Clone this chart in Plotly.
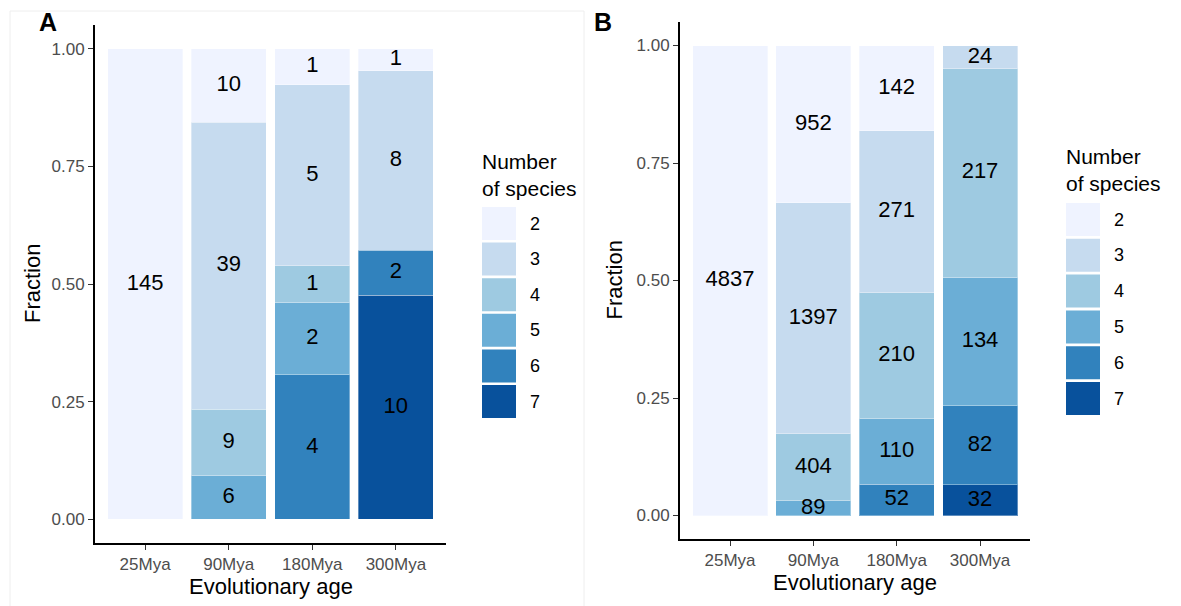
import plotly.graph_objects as go

W, H = 1181, 606

# Categories
ages = ["25Mya", "90Mya", "180Mya", "300Mya"]
species_levels = ["2", "3", "4", "5", "6", "7"]
level_colors = ["#EFF3FF", "#C6DBEF", "#9ECAE1", "#6BAED6", "#3182BD", "#08519C"]

# Panel A: counts per number of species, by evolutionary age
a_n2 = [145, 10, 1, 1]
a_n3 = [None, 39, 5, 8]
a_n4 = [None, 9, 1, None]
a_n5 = [None, 6, 2, None]
a_n6 = [None, None, 4, 2]
a_n7 = [None, None, None, 10]

# Panel B: counts per number of species, by evolutionary age
b_n2 = [4837, 952, 142, None]
b_n3 = [None, 1397, 271, 24]
b_n4 = [None, 404, 210, 217]
b_n5 = [None, 89, 110, 134]
b_n6 = [None, None, 52, 82]
b_n7 = [None, None, None, 32]

y_ticks = [0.0, 0.25, 0.5, 0.75, 1.0]
y_ticktext = ["0.00", "0.25", "0.50", "0.75", "1.00"]

FONT = "Liberation Sans, Arial, Helvetica, sans-serif"


def px(x):
    return x / W


def py(y):
    return 1 - y / H


fig = go.Figure()


def add_panel(series, xa, ya):
    totals = [sum(s[i] or 0 for s in series) for i in range(len(ages))]
    # ggplot-style stacking: highest level at the bottom
    base = [0.0] * len(ages)
    tx, ty, tt = [], [], []
    for k in reversed(range(len(series))):
        counts = series[k]
        frac = [None if c is None else c / totals[i] for i, c in enumerate(counts)]
        fig.add_trace(go.Bar(
            x=ages, y=frac, xaxis=xa, yaxis=ya, width=0.9,
            marker=dict(color=level_colors[k],
                        line=dict(color="rgba(255,255,255,0.35)", width=1)),
            showlegend=False, hoverinfo="skip",
        ))
        for i, f in enumerate(frac):
            if f is None:
                continue
            tx.append(ages[i])
            ty.append(base[i] + f / 2)
            tt.append(str(counts[i]))
            base[i] += f
    fig.add_trace(go.Scatter(
        x=tx, y=ty, text=tt, mode="text", xaxis=xa, yaxis=ya,
        textfont=dict(size=22, color="black", family=FONT),
        showlegend=False, hoverinfo="skip",
    ))


add_panel([a_n2, a_n3, a_n4, a_n5, a_n6, a_n7], "x", "y")
add_panel([b_n2, b_n3, b_n4, b_n5, b_n6, b_n7], "x2", "y2")

axis_common = dict(
    showline=True, linecolor="black", linewidth=1.8, mirror=False,
    ticks="outside", ticklen=5, tickwidth=1.4, tickcolor="#333333",
    showgrid=False, zeroline=False,
    tickfont=dict(size=17, color="#4D4D4D", family=FONT),
)

# panel geometry (pixels)
A = dict(x0=95, x1=446, y0=25, y1=543)
B = dict(x0=680, x1=1030, y0=22, y1=539)

fig.update_layout(
    width=W, height=H, margin=dict(l=0, r=0, t=0, b=0),
    paper_bgcolor="white", plot_bgcolor="white",
    barmode="stack", bargap=0.1,
    font=dict(family=FONT),
    xaxis=dict(domain=[px(A["x0"]), px(A["x1"])], anchor="y",
               type="category", categoryorder="array", categoryarray=ages,
               range=[-0.6, 3.6], **axis_common),
    yaxis=dict(domain=[py(A["y1"]), py(A["y0"])], anchor="x",
               range=[-0.05, 1.05], tickvals=y_ticks, ticktext=y_ticktext,
               **axis_common),
    xaxis2=dict(domain=[px(B["x0"]), px(B["x1"])], anchor="y2",
                type="category", categoryorder="array", categoryarray=ages,
                range=[-0.6, 3.6], **axis_common),
    yaxis2=dict(domain=[py(B["y1"]), py(B["y0"])], anchor="x2",
                range=[-0.05, 1.05], tickvals=y_ticks, ticktext=y_ticktext,
                **axis_common),
)

annotations = []
shapes = []

# faint frame around panel A
shapes.append(dict(type="rect", xref="paper", yref="paper",
                   x0=px(10), x1=px(584), y0=py(612), y1=py(11),
                   line=dict(color="#EEEEEE", width=1), fillcolor="rgba(0,0,0,0)",
                   layer="below"))

for P, tag, tag_x, ylab_x, leg_x, leg_y0, leg_title_y, key_step in [
    (A, "A", 37, 32, 482, 207, 148, 35.6),
    (B, "B", 592, 614, 1066, 203, 143, 35.8),
]:
    cx = (P["x0"] + P["x1"]) / 2
    cy = (P["y0"] + P["y1"]) / 2
    annotations.append(dict(text="<b>%s</b>" % tag, x=px(tag_x), y=py(6),
                            xref="paper", yref="paper", xanchor="left", yanchor="top",
                            showarrow=False, font=dict(size=25, color="black", family=FONT)))
    annotations.append(dict(text="Evolutionary age", x=px(cx), y=py(P["y1"] + 43),
                            xref="paper", yref="paper", xanchor="center", yanchor="middle",
                            borderpad=0, showarrow=False,
                            font=dict(size=22, color="black", family=FONT)))
    annotations.append(dict(text="Fraction", x=px(ylab_x), y=py(cy), textangle=-90,
                            xref="paper", yref="paper", xanchor="center", yanchor="middle",
                            showarrow=False, font=dict(size=22, color="black", family=FONT)))
    annotations.append(dict(text="Number<br>of species", x=px(leg_x - 2), y=py(leg_title_y),
                            xref="paper", yref="paper", xanchor="left", yanchor="top",
                            align="left", showarrow=False,
                            font=dict(size=21, color="black", family=FONT)))
    for k, (lvl, col) in enumerate(zip(species_levels, level_colors)):
        top = leg_y0 + k * key_step
        shapes.append(dict(type="rect", xref="paper", yref="paper",
                           x0=px(leg_x), x1=px(leg_x + 34), y0=py(top + 33), y1=py(top),
                           fillcolor=col, line=dict(width=0)))
        annotations.append(dict(text=lvl, x=px(leg_x + 46), y=py(top + 16.5),
                                xref="paper", yref="paper", xanchor="left", yanchor="middle",
                                showarrow=False, font=dict(size=18, color="black", family=FONT)))

fig.update_layout(annotations=annotations, shapes=shapes)

fig.write_html("out.html")
